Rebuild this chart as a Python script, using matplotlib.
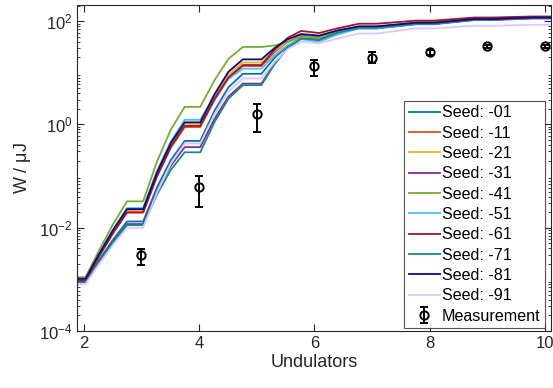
import numpy as np
import matplotlib
matplotlib.use('Agg')
import matplotlib.pyplot as plt
from matplotlib.ticker import LogLocator, NullFormatter, FuncFormatter

plt.rcParams['font.family'] = ['Liberation Sans', 'DejaVu Sans']
plt.rcParams['mathtext.fontset'] = 'custom'
plt.rcParams['mathtext.rm'] = 'Liberation Sans'
plt.rcParams['mathtext.it'] = 'Liberation Sans:italic'
plt.rcParams['mathtext.default'] = 'regular'

# position along the beamline (undulator index) where the simulated curves are sampled
undulator_z = [1.9, 2.03, 2.27, 2.51, 2.75, 3.03, 3.27, 3.51, 3.75, 4.02, 4.27, 4.51, 4.76,
               5.08, 5.31, 5.54, 5.77, 6.08, 6.4, 6.77, 7.08, 7.77, 8.08, 8.77, 9.08, 9.77, 10.1]

# log10 of pulse energy in uJ, one list per seed
w_01 = [-3.04, -3.04, -2.62, -2.23, -1.88, -1.88, -1.22, -0.69, -0.32, -0.32, 0.27, 0.72, 0.98,
        0.98, 1.29, 1.53, 1.67, 1.65, 1.78, 1.87, 1.87, 1.95, 1.95, 2.03, 2.03, 2.06, 2.06]
w_11 = [-3.02, -3.02, -2.55, -2.10, -1.71, -1.71, -1.01, -0.45, -0.05, -0.05, 0.48, 0.89, 1.13,
        1.13, 1.40, 1.60, 1.72, 1.69, 1.80, 1.89, 1.89, 1.97, 1.97, 2.05, 2.05, 2.08, 2.08]
w_21 = [-3.00, -3.00, -2.52, -2.06, -1.66, -1.66, -0.96, -0.39, 0.01, 0.01, 0.55, 0.96, 1.20,
        1.20, 1.43, 1.60, 1.70, 1.67, 1.78, 1.87, 1.87, 1.95, 1.95, 2.03, 2.03, 2.06, 2.06]
w_31 = [-3.05, -3.05, -2.65, -2.27, -1.93, -1.93, -1.30, -0.80, -0.44, -0.44, 0.11, 0.54, 0.79,
        0.79, 1.18, 1.49, 1.66, 1.63, 1.77, 1.86, 1.86, 1.94, 1.94, 2.02, 2.02, 2.05, 2.05]
w_41 = [-2.96, -2.96, -2.43, -1.93, -1.49, -1.49, -0.72, -0.10, 0.34, 0.34, 0.86, 1.27, 1.50,
        1.50, 1.53, 1.60, 1.70, 1.68, 1.79, 1.88, 1.88, 1.98, 1.98, 2.05, 2.05, 2.08, 2.08]
w_51 = [-3.01, -3.01, -2.51, -2.04, -1.62, -1.62, -0.90, -0.33, 0.09, 0.09, 0.54, 0.88, 1.08,
        1.08, 1.34, 1.54, 1.65, 1.60, 1.74, 1.86, 1.86, 1.95, 1.95, 2.03, 2.03, 2.06, 2.06]
w_61 = [-3.02, -3.02, -2.54, -2.10, -1.70, -1.70, -1.00, -0.43, -0.03, -0.03, 0.50, 0.91, 1.15,
        1.15, 1.45, 1.68, 1.81, 1.77, 1.86, 1.95, 1.95, 2.01, 2.01, 2.07, 2.07, 2.09, 2.09]
w_71 = [-3.06, -3.06, -2.66, -2.28, -1.95, -1.95, -1.36, -0.88, -0.54, -0.54, 0.05, 0.50, 0.76,
        0.76, 1.17, 1.48, 1.66, 1.64, 1.78, 1.87, 1.87, 1.95, 1.95, 2.03, 2.03, 2.06, 2.06]
w_81 = [-2.99, -2.99, -2.50, -2.04, -1.64, -1.64, -0.93, -0.36, 0.04, 0.04, 0.59, 1.02, 1.26,
        1.26, 1.48, 1.65, 1.75, 1.72, 1.82, 1.90, 1.90, 1.97, 1.97, 2.04, 2.04, 2.07, 2.07]
w_91 = [-3.09, -3.09, -2.70, -2.33, -2.00, -2.00, -1.32, -0.76, -0.37, -0.37, 0.20, 0.64, 0.89,
        0.89, 1.21, 1.46, 1.60, 1.57, 1.66, 1.76, 1.76, 1.86, 1.86, 1.91, 1.91, 1.93, 1.93]

seed_labels = ['Seed: -01', 'Seed: -11', 'Seed: -21', 'Seed: -31', 'Seed: -41',
               'Seed: -51', 'Seed: -61', 'Seed: -71', 'Seed: -81', 'Seed: -91']
seed_colors = ['#0072BD', '#D95319', '#EDB120', '#7E2F8E', '#77AC30',
               '#4DBEEE', '#A2142F', '#138A8C', '#0B0B80', '#DEC6F7']

# measured pulse energy after each undulator
meas_und = [3, 4, 5, 6, 7, 8, 9, 10]
meas_w = [0.0029, 0.062, 1.6, 13.5, 19.6, 25.0, 32.5, 32.5]
meas_lo = [0.0019, 0.025, 0.72, 8.5, 15.5, 22.5, 30.5, 30.5]
meas_hi = [0.0039, 0.100, 2.45, 17.5, 25.0, 27.5, 34.5, 34.5]


fig = plt.figure(figsize=(5.53, 3.88), dpi=100)
ax = fig.add_axes([0.140, 0.147, 0.856, 0.840])

series = [w_01, w_11, w_21, w_31, w_41, w_51, w_61, w_71, w_81, w_91]
for w, lab, col in zip(series, seed_labels, seed_colors):
    ax.plot(undulator_z, 10**np.array(w), color=col, lw=1.3, label=lab)

yerr = [np.array(meas_w) - np.array(meas_lo), np.array(meas_hi) - np.array(meas_w)]
ax.errorbar(meas_und, meas_w, yerr=yerr, fmt='o', color='k', mfc='none', ms=6,
            mew=1.4, elinewidth=1.4, capsize=3, capthick=1.4, label='Measurement')

ax.set_yscale('log')
ax.set_xlim(1.89, 10.1)
ax.set_ylim(1e-4, 205)
ax.set_xticks([2, 4, 6, 8, 10])
ax.set_yticks([1e-4, 1e-2, 1e0, 1e2])
ax.yaxis.set_minor_locator(LogLocator(base=10, subs=np.arange(2, 10), numticks=20))
ax.yaxis.set_minor_formatter(NullFormatter())
ax.yaxis.set_major_formatter(FuncFormatter(lambda v, p: '10$^{%d}$' % int(round(np.log10(v)))))

axcol = '#262626'
for s in ax.spines.values():
    s.set_color(axcol)
    s.set_linewidth(0.8)
ax.tick_params(which='both', direction='in', top=True, right=True, colors=axcol,
               labelcolor='#262626', labelsize=12)
ax.tick_params(which='major', length=5, width=0.8)
ax.tick_params(which='minor', length=2.5, width=0.6)

ax.set_xlabel('Undulators', fontsize=13, color='#262626', labelpad=2)
ax.set_ylabel('W / $\\mu$J', fontsize=13, color='#262626', labelpad=4)

leg = ax.legend(loc='lower right', bbox_to_anchor=(0.988, 0.008), fontsize=11.6,
                frameon=True, fancybox=False, handlelength=1.9, handletextpad=0.12,
                labelspacing=0.33, borderpad=0.3, borderaxespad=0.0)
leg.get_frame().set_edgecolor('#262626')
leg.get_frame().set_linewidth(0.8)

fig.savefig('out.png', dpi=100)
